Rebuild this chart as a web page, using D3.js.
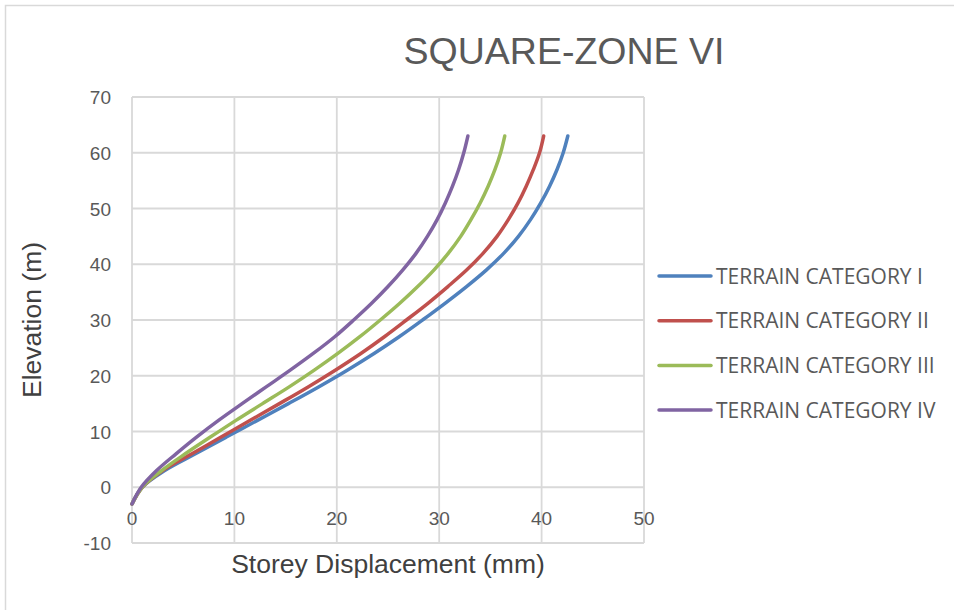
<!DOCTYPE html>
<html>
<head>
<meta charset="utf-8">
<script src="https://cdn.jsdelivr.net/npm/d3@7"></script>
<style>
  body { margin: 0; background: #fff; }
  svg { display: block; }
</style>
</head>
<body>
<div id="chart"></div>
<script>
// elevation of each storey level (m)
var elevations = [-3, 0, 3, 6, 9, 12, 15, 18, 21, 24, 27, 30, 33, 36, 39, 42, 45, 48, 51, 54, 57, 60, 63]

// storey displacement (mm) per terrain category
var terrain1 = [0, 1.0, 3.2, 6.2, 9.22, 12.25, 15.27, 18.22, 21.02, 23.64, 26.09, 28.37, 30.57, 32.67, 34.62, 36.32, 37.74, 38.92, 39.92, 40.78, 41.51, 42.11, 42.56]
var terrain2 = [0, 1.0, 3.0, 5.85, 8.7, 11.55, 14.4, 17.2, 19.85, 22.35, 24.65, 26.8, 28.9, 30.85, 32.7, 34.3, 35.65, 36.75, 37.7, 38.5, 39.2, 39.8, 40.2]
var terrain3 = [0, 1.0, 2.9, 5.2, 7.65, 10.15, 12.75, 15.35, 17.8, 20.1, 22.25, 24.25, 26.15, 27.9, 29.5, 30.9, 32.1, 33.1, 34.0, 34.78, 35.45, 36.0, 36.4]
var terrain4 = [0, 0.9, 2.4, 4.3, 6.3, 8.45, 10.75, 13.1, 15.45, 17.7, 19.8, 21.65, 23.4, 25.0, 26.45, 27.75, 28.85, 29.8, 30.6, 31.3, 31.9, 32.4, 32.8]

var seriesNames = ['TERRAIN CATEGORY I', 'TERRAIN CATEGORY II', 'TERRAIN CATEGORY III', 'TERRAIN CATEGORY IV']
var seriesColors = ['#4F81BD', '#C0504D', '#9BBB59', '#8064A2']
var xTicks = [0, 10, 20, 30, 40, 50]
var yTicks = [-10, 0, 10, 20, 30, 40, 50, 60, 70]

var series = [terrain1, terrain2, terrain3, terrain4].map(function (vals, i) {
  return {
    name: seriesNames[i],
    color: seriesColors[i],
    points: vals.map(function (v, j) { return { x: v, y: elevations[j] } })
  }
})

var width = 954, height = 610
var plot = { left: 132, right: 644, top: 97, bottom: 543 }
var textColor = '#595959'
var axisFont = '"Liberation Sans", Arial, sans-serif'

var svg = d3.select('#chart').append('svg')
  .attr('width', width)
  .attr('height', height)

// outer chart border
svg.append('rect')
  .attr('x', 5.5).attr('y', 5.5)
  .attr('width', 960).attr('height', 620)
  .attr('fill', '#fff')
  .attr('stroke', '#d9d9d9')
  .attr('stroke-width', 1.5)

var x = d3.scaleLinear().domain([0, 50]).range([plot.left, plot.right])
var y = d3.scaleLinear().domain([-10, 70]).range([plot.bottom, plot.top])

// gridlines
var grid = svg.append('g').attr('class', 'grid')
grid.selectAll('.hgrid')
  .data(yTicks)
  .enter().append('line')
  .attr('x1', plot.left).attr('x2', plot.right)
  .attr('y1', function (d) { return y(d) })
  .attr('y2', function (d) { return y(d) })
  .attr('stroke', '#d9d9d9')
  .attr('stroke-width', 1.8)
grid.selectAll('.vgrid')
  .data(xTicks)
  .enter().append('line')
  .attr('y1', plot.top).attr('y2', plot.bottom)
  .attr('x1', function (d) { return x(d) })
  .attr('x2', function (d) { return x(d) })
  .attr('stroke', '#d9d9d9')
  .attr('stroke-width', 1.8)

// y tick labels
svg.append('g')
  .selectAll('text')
  .data(yTicks)
  .enter().append('text')
  .attr('x', plot.left - 21)
  .attr('y', function (d) { return y(d) + 7 })
  .attr('text-anchor', 'end')
  .attr('font-family', axisFont)
  .attr('font-size', 19)
  .attr('fill', textColor)
  .text(function (d) { return d })

// x tick labels sit under the zero line
svg.append('g')
  .selectAll('text')
  .data(xTicks)
  .enter().append('text')
  .attr('x', function (d) { return x(d) })
  .attr('y', y(0) + 38)
  .attr('text-anchor', 'middle')
  .attr('font-family', axisFont)
  .attr('font-size', 19)
  .attr('fill', textColor)
  .text(function (d) { return d })

// curves (smoothed like the spreadsheet lines)
var line = d3.line()
  .x(function (d) { return x(d.x) })
  .y(function (d) { return y(d.y) })
  .curve(d3.curveCatmullRom.alpha(0.5))

svg.append('g')
  .selectAll('path')
  .data(series)
  .enter().append('path')
  .attr('d', function (d) { return line(d.points) })
  .attr('fill', 'none')
  .attr('stroke', function (d) { return d.color })
  .attr('stroke-width', 3.5)
  .attr('stroke-linecap', 'round')
  .attr('stroke-linejoin', 'round')

// title
svg.append('text')
  .attr('x', 564).attr('y', 64)
  .attr('text-anchor', 'middle')
  .attr('font-family', axisFont)
  .attr('font-size', 37.5)
  .attr('fill', textColor)
  .text('SQUARE-ZONE VI')

// axis titles
svg.append('text')
  .attr('x', (plot.left + plot.right) / 2).attr('y', 573)
  .attr('text-anchor', 'middle')
  .attr('font-family', axisFont)
  .attr('font-size', 26.5)
  .attr('fill', '#404040')
  .text('Storey Displacement (mm)')

svg.append('text')
  .attr('transform', 'translate(41,' + ((plot.top + plot.bottom) / 2) + ') rotate(-90)')
  .attr('text-anchor', 'middle')
  .attr('font-family', axisFont)
  .attr('font-size', 26.5)
  .attr('fill', '#404040')
  .text('Elevation (m)')

// legend
var legend = svg.append('g')
  .selectAll('g')
  .data(series)
  .enter().append('g')
  .attr('transform', function (d, i) { return 'translate(659,' + (276 + i * 44.7) + ')' })
legend.append('line')
  .attr('x1', 0).attr('x2', 52)
  .attr('stroke', function (d) { return d.color })
  .attr('stroke-width', 3.5)
  .attr('stroke-linecap', 'round')
legend.append('text')
  .attr('x', 57).attr('y', 7.5)
  .attr('font-family', '"Open Sans", sans-serif')
  .attr('font-size', 21)
  .attr('fill', textColor)
  .text(function (d) { return d.name })
</script>
</body>
</html>
